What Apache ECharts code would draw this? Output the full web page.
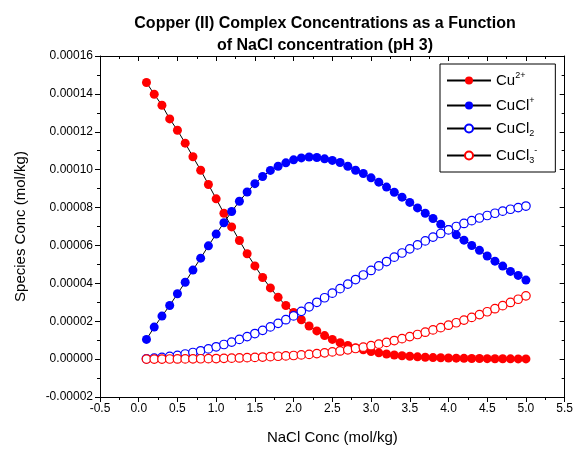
<!DOCTYPE html>
<html>
<head>
<meta charset="utf-8">
<script src="https://cdn.jsdelivr.net/npm/echarts@6/dist/echarts.min.js"></script>
<style>
  html, body { margin: 0; padding: 0; background: #fff; }
  #chart { width: 576px; height: 452px; }
</style>
</head>
<body>
<div id="chart"></div>
<script>
// NaCl concentration (mol/kg)
var nacl = [0.1, 0.2, 0.3, 0.4, 0.5, 0.6, 0.7, 0.8, 0.9, 1.0,
            1.1, 1.2, 1.3, 1.4, 1.5, 1.6, 1.7, 1.8, 1.9, 2.0,
            2.1, 2.2, 2.3, 2.4, 2.5, 2.6, 2.7, 2.8, 2.9, 3.0,
            3.1, 3.2, 3.3, 3.4, 3.5, 3.6, 3.7, 3.8, 3.9, 4.0,
            4.1, 4.2, 4.3, 4.4, 4.5, 4.6, 4.7, 4.8, 4.9, 5.0];

// species conc, in units of 1e-5 mol/kg
var cu = [14.6, 13.98, 13.4, 12.68, 12.08, 11.4, 10.68, 9.97, 9.22, 8.46,
          7.7, 6.98, 6.26, 5.56, 4.92, 4.31, 3.76, 3.26, 2.83, 2.46,
          2.08, 1.75, 1.49, 1.24, 1.04, 0.87, 0.72, 0.6, 0.49, 0.4,
          0.33, 0.27, 0.22, 0.18, 0.15, 0.12, 0.1, 0.08, 0.07, 0.06,
          0.05, 0.04, 0.035, 0.03, 0.025, 0.02, 0.017, 0.014, 0.012, 0.01];
var cucl = [1.04, 1.69, 2.27, 2.83, 3.45, 4.06, 4.7, 5.33, 5.98, 6.6,
            7.2, 7.79, 8.33, 8.82, 9.26, 9.64, 9.96, 10.18, 10.36, 10.52,
            10.62, 10.67, 10.64, 10.57, 10.49, 10.38, 10.18, 9.97, 9.8, 9.57,
            9.34, 9.08, 8.81, 8.55, 8.27, 7.98, 7.7, 7.42, 7.12, 6.84,
            6.56, 6.28, 6.0, 5.74, 5.44, 5.17, 4.91, 4.63, 4.42, 4.17];
var cucl2 = [0.02, 0.05, 0.09, 0.14, 0.2, 0.27, 0.35, 0.44, 0.54, 0.65,
             0.77, 0.9, 1.04, 1.19, 1.35, 1.52, 1.7, 1.89, 2.08, 2.28,
             2.52, 2.76, 3.0, 3.24, 3.48, 3.72, 3.96, 4.2, 4.44, 4.68,
             4.92, 5.15, 5.38, 5.6, 5.82, 6.03, 6.24, 6.44, 6.63, 6.82,
             7.0, 7.16, 7.31, 7.45, 7.58, 7.7, 7.81, 7.91, 8.0, 8.08];
var cucl3 = [0.0, 0.0, 0.003, 0.005, 0.008, 0.012, 0.016, 0.02, 0.025, 0.03,
             0.04, 0.05, 0.06, 0.075, 0.09, 0.11, 0.13, 0.15, 0.17, 0.19,
             0.22, 0.25, 0.29, 0.33, 0.38, 0.43, 0.49, 0.56, 0.63, 0.71,
             0.79, 0.88, 0.98, 1.08, 1.19, 1.3, 1.42, 1.54, 1.66, 1.79,
             1.92, 2.06, 2.2, 2.35, 2.5, 2.66, 2.82, 2.99, 3.16, 3.34];

var names = ['Cu2+', 'CuCl+', 'CuCl2', 'CuCl3-'];
var legendLabels = {
    'Cu2+': 'Cu{sup|2+}',
    'CuCl+': 'CuCl{sup|+}',
    'CuCl2': 'CuCl{sub|2}',
    'CuCl3-': 'CuCl{sub|3}{sup|-}'
};

function pairs(ys) {
    return nacl.map(function (x, i) { return [x, ys[i] * 1e-5]; });
}

function makeSeries(name, ys, color, filled) {
    return {
        name: name,
        type: 'line',
        data: pairs(ys),
        symbol: 'circle',
        symbolSize: filled ? 9 : 8.5,
        showAllSymbol: true,
        lineStyle: { color: '#000', width: 1 },
        itemStyle: filled ? { color: color } : { color: '#fff', borderColor: color, borderWidth: 1.2 },
        emphasis: { disabled: true },
        animation: false
    };
}

var font = 'Arial, "Liberation Sans", sans-serif';
var chart = echarts.init(document.getElementById('chart'));

var option = {
    backgroundColor: '#fff',
    animation: false,
    title: {
        text: 'Copper (II) Complex Concentrations as a Function\nof NaCl concentration (pH 3)',
        left: 320,
        textAlign: 'center',
        top: 8,
        textStyle: { fontFamily: font, fontSize: 16, fontWeight: 'bold', color: '#000', lineHeight: 22 }
    },
    legend: {
        orient: 'vertical',
        left: 440,
        top: 64,
        padding: [7, 18, 7, 6],
        itemGap: 8,
        itemWidth: 44,
        itemHeight: 10,
        borderColor: '#000',
        borderWidth: 1,
        data: names,
        formatter: function (n) { return legendLabels[n]; },
        textStyle: {
            fontFamily: font, fontSize: 15, color: '#000',
            rich: {
                sup: { fontFamily: font, fontSize: 9, color: '#000', padding: [0, 0, 10, 0] },
                sub: { fontFamily: font, fontSize: 9, color: '#000', padding: [10, 0, 0, 0] }
            }
        }
    },
    grid: { left: 100, right: 10, top: 56, bottom: 55, containLabel: false },
    xAxis: [{
        type: 'value',
        min: -0.5, max: 5.5, interval: 0.5,
        name: 'NaCl Conc (mol/kg)',
        nameLocation: 'middle',
        nameGap: 33,
        nameTextStyle: { fontFamily: font, fontSize: 15, color: '#000' },
        axisLine: { onZero: false, lineStyle: { color: '#000', width: 1 } },
        axisTick: { inside: false, length: 5, lineStyle: { color: '#000' } },
        minorTick: { show: true, splitNumber: 2, length: 3, lineStyle: { color: '#000' } },
        axisLabel: { fontFamily: font, fontSize: 12, color: '#000', margin: 6,
            formatter: function (v) { return v.toFixed(1); } },
        splitLine: { show: false }
    }, {
        type: 'value',
        position: 'top',
        min: -0.5, max: 5.5, interval: 0.5,
        axisLine: { onZero: false, lineStyle: { color: '#000', width: 1 } },
        axisTick: { inside: true, length: 5, lineStyle: { color: '#000' } },
        minorTick: { show: true, splitNumber: 2, length: 3, lineStyle: { color: '#000' } },
        axisLabel: { show: false },
        splitLine: { show: false }
    }],
    yAxis: [{
        type: 'value',
        min: -0.00002, max: 0.00016, interval: 0.00002,
        name: 'Species Conc (mol/kg)',
        nameLocation: 'middle',
        nameGap: 72,
        nameTextStyle: { fontFamily: font, fontSize: 15, color: '#000' },
        axisLine: { onZero: false, lineStyle: { color: '#000', width: 1 } },
        axisTick: { inside: false, length: 5, lineStyle: { color: '#000' } },
        minorTick: { show: true, splitNumber: 2, length: 3, lineStyle: { color: '#000' } },
        axisLabel: { fontFamily: font, fontSize: 12, color: '#000', margin: 7,
            formatter: function (v) { return v.toFixed(5); } },
        splitLine: { show: false }
    }, {
        type: 'value',
        position: 'right',
        min: -0.00002, max: 0.00016, interval: 0.00002,
        axisLine: { onZero: false, lineStyle: { color: '#000', width: 1 } },
        axisTick: { inside: true, length: 5, lineStyle: { color: '#000' } },
        minorTick: { show: true, splitNumber: 2, length: 3, lineStyle: { color: '#000' } },
        axisLabel: { show: false },
        splitLine: { show: false }
    }],
    series: [
        makeSeries('Cu2+', cu, '#ff0000', true),
        makeSeries('CuCl+', cucl, '#0000ff', true),
        makeSeries('CuCl2', cucl2, '#0000ff', false),
        makeSeries('CuCl3-', cucl3, '#ff0000', false)
    ]
};

chart.setOption(option);
</script>
</body>
</html>
